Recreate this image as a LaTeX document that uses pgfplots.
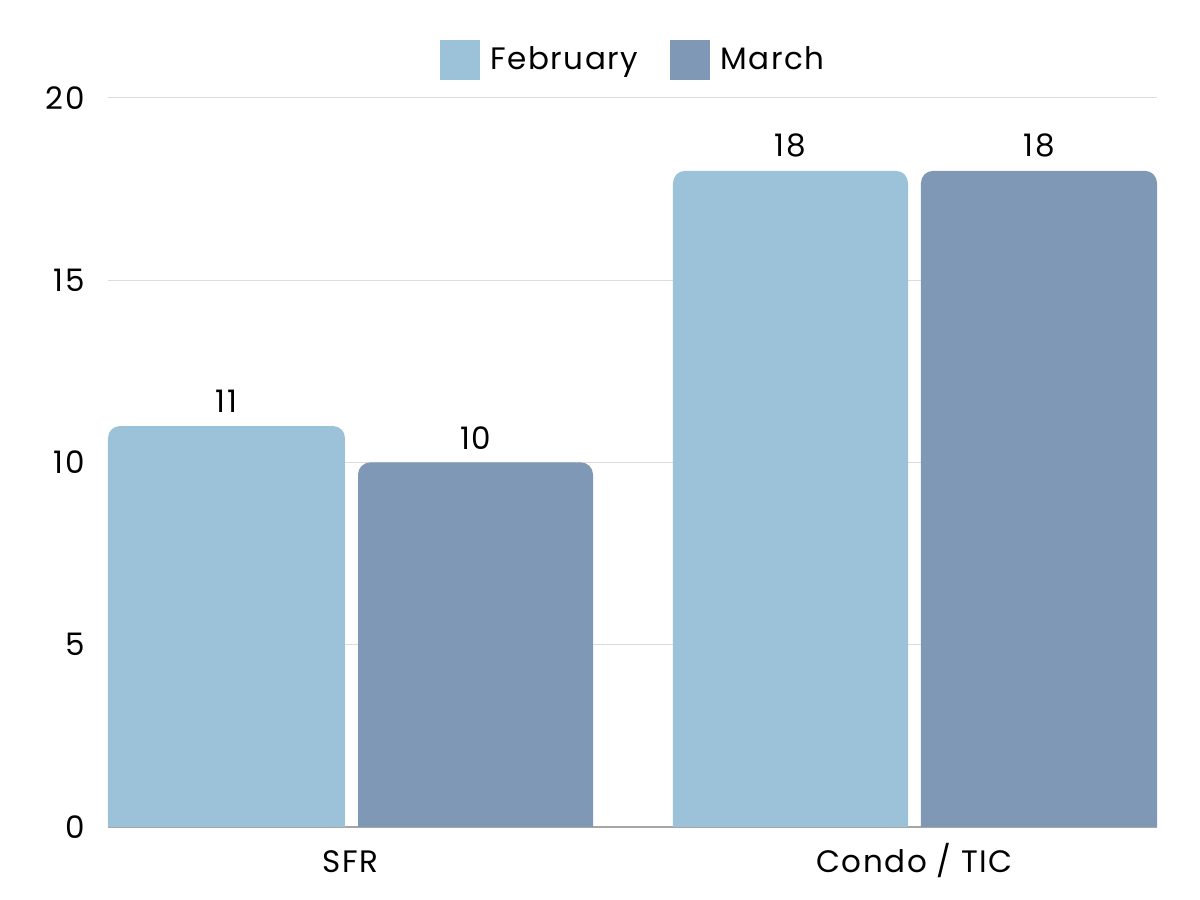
\documentclass[border=0pt]{standalone}
\usepackage{pgfplots}
\pgfplotsset{compat=1.18}
\usepackage{fontspec}
\setmainfont{Poppins}[LetterSpace=5]
\definecolor{feb}{HTML}{9BC2D8}
\definecolor{mar}{HTML}{7F98B5}
\definecolor{gridc}{HTML}{DCDCDC}
\newcommand{\lbl}{\fontsize{15.5pt}{18pt}\selectfont}
\begin{document}
\begin{tikzpicture}
\useasboundingbox (0pt,0pt) rectangle (600pt,450pt);
\begin{axis}[
  at={(54pt,36.5pt)}, anchor=south west,
  scale only axis, width=524.5pt, height=364.5pt,
  ymin=0, ymax=20, ytick={0,5,10,15,20},
  xmin=-0.43, xmax=1.43, xtick={0,1}, xticklabels={SFR, Condo / TIC},
  /pgf/number format/assume math mode=true,
  axis x line*=bottom, axis y line*=left,
  x axis line style={draw=gray!70, line width=0.6pt},
  y axis line style={draw=none},
  major tick length=0pt,
  ymajorgrids, grid style={draw=gridc, line width=0.5pt},
  yticklabel style={font=\lbl, anchor=east, inner sep=0pt, xshift=-11.5pt},
  xticklabel style={font=\lbl, anchor=base, inner sep=0pt, yshift=-23pt},
  legend style={at={(0.5,1)}, anchor=south, yshift=9pt, draw=none, fill=none,
    inner sep=0pt, font=\lbl, legend columns=2,
    nodes={inner sep=0pt},
    /tikz/every odd column/.append style={column sep=5pt},
    /tikz/every even column/.append style={column sep=16pt}},
  legend image code/.code={\path[#1] (0pt,-10pt) rectangle (20pt,10pt);},
  every node near coord/.append style={font=\lbl, anchor=south, inner sep=0pt, yshift=6.5pt, text=black},
]
\addlegendimage{fill=feb, draw=none}
\addlegendentry{February}
\addlegendimage{fill=mar, draw=none}
\addlegendentry{March}
% bar shapes: rounded tops, bottoms run below the axis and are clipped
\addplot[fill=feb, draw=none, no markers, rounded corners=6pt, forget plot]
  coordinates {(-0.43,-1) (-0.43,11) (-0.0098,11) (-0.0098,-1)};
\addplot[fill=mar, draw=none, no markers, rounded corners=6pt, forget plot]
  coordinates {(0.0133,-1) (0.0133,10) (0.4300,10) (0.4300,-1)};
\addplot[fill=feb, draw=none, no markers, rounded corners=6pt, forget plot]
  coordinates {(0.5718,-1) (0.5718,18) (0.9885,18) (0.9885,-1)};
\addplot[fill=mar, draw=none, no markers, rounded corners=6pt, forget plot]
  coordinates {(1.0115,-1) (1.0115,18) (1.43,18) (1.43,-1)};
% values (labels)
\addplot[draw=none, no markers, nodes near coords, forget plot,
  every node near coord/.append style={xshift=-62pt}]
  coordinates {(0,11) (1,18)};
\addplot[draw=none, no markers, nodes near coords, forget plot,
  every node near coord/.append style={xshift=62.5pt}]
  coordinates {(0,10) (1,18)};
\end{axis}
\end{tikzpicture}
\end{document}
